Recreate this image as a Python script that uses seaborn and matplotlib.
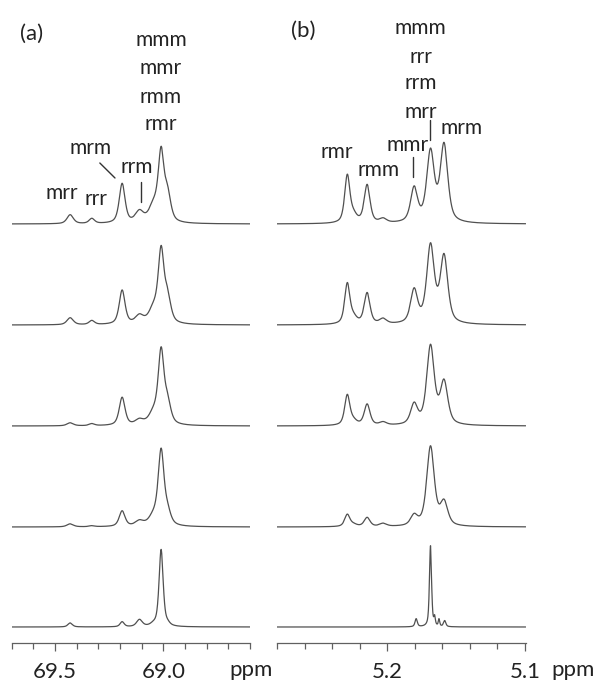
import numpy as np
import pandas as pd
import matplotlib
matplotlib.use('Agg')
import matplotlib.pyplot as plt
import seaborn as sns
from matplotlib.ticker import MultipleLocator, FixedLocator

# Peak tables (ppm, FWHM in ppm, height per trace, top -> bottom)
a_ppm = [69.43, 69.33, 69.19, 69.11, 69.045, 69.01, 68.98]
a_width = [0.035, 0.03, 0.032, 0.045, 0.05, 0.032, 0.035]
a_width_scale = [1, 1, 1, 1, 0.7]
a_heights = [
    [9, 5, 39.5, 11, 16, 67, 26],
    [7, 4, 34, 8, 14, 70, 24],
    [3, 2, 28, 5, 11, 71.5, 20],
    [3, 1, 15.5, 5, 9, 73.5, 12],
    [4, 0, 5, 7, 2, 77, 2],
]

b_ppm = [5.229, 5.2245, 5.2146, 5.203, 5.1805, 5.1686, 5.1588]
b_width = [0.0045, 0.006, 0.005, 0.006, 0.006, 0.0065, 0.0065]
b_heights = [
    [47, 7, 38, 4, 34, 70, 77],
    [40, 6, 31, 5, 33, 77, 66.5],
    [30, 4, 21, 3, 20, 78.5, 42],
    [12, 2, 9, 3, 10, 79.5, 23],
]
# bottom trace of (b) is a single sharp line with small satellites
b_last_ppm = [5.179, 5.1686, 5.1656, 5.1624, 5.1583]
b_last_width = [0.002, 0.0018, 0.0012, 0.0012, 0.002]
b_last_height = [8, 81, 8, 7, 6]

a_ticks = [69.5, 69.0]
a_ticklabels = ['69.5', '69.0']
b_ticks = [5.2, 5.1]
b_ticklabels = ['5.2', '5.1']

offsets = [419, 318, 217, 116, 16]


def line_shape(x, x0, w):
    lor = 1.0 / (1.0 + ((x - x0) / (w / 2)) ** 2)
    gau = np.exp(-4 * np.log(2) * ((x - x0) / w) ** 2)
    return 0.6 * lor + 0.4 * gau


def trace_frame(x, peaks, i):
    y = np.full_like(x, offsets[i])
    for p, w, h in peaks:
        y = y + h * line_shape(x, p, w)
    return pd.DataFrame({'ppm': x, 'y': y, 'trace': i})


xa = np.linspace(68.60, 69.70, 2500)
df_a = pd.concat([
    trace_frame(xa, [(p, w * a_width_scale[i], h) for p, w, h in zip(a_ppm, a_width, hs)], i)
    for i, hs in enumerate(a_heights)
], ignore_index=True)

xb = np.linspace(5.0995, 5.28, 2500)
b_list = [list(zip(b_ppm, b_width, hs)) for hs in b_heights]
b_list.append(list(zip(b_last_ppm, b_last_width, b_last_height)))
df_b = pd.concat([trace_frame(xb, pk, i) for i, pk in enumerate(b_list)],
                 ignore_index=True)

sns.set_style('white')
plt.rcParams['font.family'] = ['Lato', 'DejaVu Sans']

fig = plt.figure(figsize=(6, 6.82), dpi=100)
ax_a = fig.add_axes([0.0195, 0.0572, 0.397, 0.9428])
ax_b = fig.add_axes([0.4617, 0.0572, 0.4145, 0.9428])

line_col = '#505050'
for ax, df in [(ax_a, df_a), (ax_b, df_b)]:
    sns.lineplot(data=df, x='ppm', y='y', units='trace', estimator=None,
                 color=line_col, linewidth=0.9, ax=ax)
    ax.set_ylim(0, 643)
    for s in ['left', 'top', 'right']:
        ax.spines[s].set_visible(False)
    ax.spines['bottom'].set_color('#606060')
    ax.spines['bottom'].set_linewidth(0.9)
    ax.set_yticks([])
    ax.set_xlabel('')
    ax.set_ylabel('')
    ax.tick_params(axis='x', which='major', direction='out', length=6,
                   width=0.9, color='#606060', labelsize=16, pad=8,
                   labelcolor='#222222', bottom=True)
    ax.tick_params(axis='x', which='minor', direction='out', length=4,
                   width=0.9, color='#606060', bottom=True)

ax_a.set_xlim(69.70, 68.60)
ax_a.xaxis.set_major_locator(FixedLocator(a_ticks))
ax_a.set_xticklabels(a_ticklabels)
ax_a.xaxis.set_minor_locator(MultipleLocator(0.1))

ax_b.set_xlim(5.28, 5.0995)
ax_b.xaxis.set_major_locator(FixedLocator(b_ticks))
ax_b.set_xticklabels(b_ticklabels)
ax_b.xaxis.set_minor_locator(MultipleLocator(0.02))

fig.text(0.418, 0.018, 'ppm', fontsize=16, ha='center', va='center', color='#222222')
fig.text(0.955, 0.018, 'ppm', fontsize=16, ha='center', va='center', color='#222222')

lab = dict(fontsize=15, ha='center', va='center', color='#222222')
# panel (a) labels
ax_a.text(69.606, 609, '(a)', fontsize=16, ha='center', va='center', color='#222222')
for txt, yy in zip(['mmm', 'mmr', 'rmm', 'rmr'], [603, 575, 546, 519]):
    ax_a.text(69.011, yy, txt, **lab)
ax_a.text(69.335, 495, 'mrm', **lab)
ax_a.plot([69.293, 69.223], [480, 465], color='#333333', lw=1.0)
ax_a.text(69.123, 476, 'rrm', **lab)
ax_a.plot([69.105, 69.105], [461, 441], color='#333333', lw=1.0)
ax_a.text(69.469, 450, 'mrr', **lab)
ax_a.text(69.311, 444, 'rrr', **lab)

# panel (b) labels
ax_b.text(5.2612, 612, '(b)', fontsize=16, ha='center', va='center', color='#222222')
for txt, yy in zip(['mmm', 'rrr', 'rrm', 'mrr'], [615, 586, 560, 531]):
    ax_b.text(5.1759, yy, txt, **lab)
ax_b.plot([5.1691, 5.1691], [523, 503], color='#333333', lw=1.0)
ax_b.text(5.1462, 515, 'mrm', **lab)
ax_b.text(5.1849, 498, 'mmr', **lab)
ax_b.plot([5.1812, 5.1812], [486, 466], color='#333333', lw=1.0)
ax_b.text(5.2367, 491, 'rmr', **lab)
ax_b.text(5.2066, 473, 'rmm', **lab)

fig.savefig('out.png', dpi=100)
